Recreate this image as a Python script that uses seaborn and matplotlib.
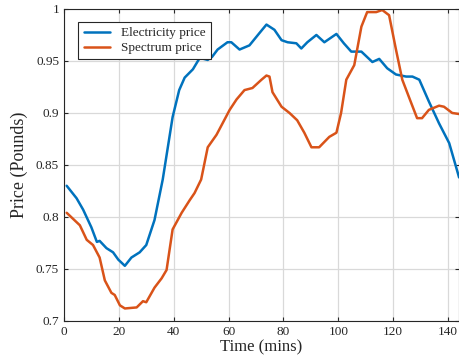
import numpy as np
import pandas as pd
import matplotlib
matplotlib.use("Agg")
import matplotlib.pyplot as plt
import seaborn as sns

# electricity price
elec_t = [1, 4.6, 7, 10, 12, 13, 15.5, 17.9, 19.8, 22.2, 24.6, 27.6, 30, 33, 36,
          39.6, 42, 44, 47, 49.5, 52.4, 54, 56, 59.6, 61, 64, 67.6, 71.3, 73.8,
          76.7, 79.3, 81.5, 84.7, 86.5, 88.7, 92, 94.9, 99.3, 102, 104.7, 108.4,
          112.4, 114.9, 117.8, 121, 124.7, 127, 129.5, 133, 136.7, 140.4, 144]
elec_p = [0.830, 0.818, 0.807, 0.790, 0.776, 0.777, 0.770, 0.766, 0.759, 0.753,
          0.761, 0.766, 0.773, 0.797, 0.836, 0.896, 0.922, 0.934, 0.942, 0.953,
          0.951, 0.954, 0.961, 0.968, 0.968, 0.961, 0.965, 0.977, 0.985, 0.980,
          0.970, 0.968, 0.967, 0.962, 0.968, 0.975, 0.968, 0.976, 0.967, 0.959,
          0.959, 0.949, 0.952, 0.943, 0.937, 0.935, 0.935, 0.932, 0.911, 0.890,
          0.871, 0.838]

# spectrum price
spec_t = [1, 5.8, 8.3, 10.6, 13, 14.9, 17.3, 18.5, 20.4, 22.2, 26.5, 28.8, 30,
          33, 35.6, 37.4, 39.6, 42.9, 45.8, 47.6, 50, 52.4, 55.6, 57.8, 60.4,
          62.9, 65.8, 68.7, 72, 73.8, 74.9, 76, 79.3, 82.2, 85, 87.6, 90.2, 93,
          96.7, 99.3, 101, 102.9, 105.8, 108.4, 110.5, 113.8, 116, 118.5, 121,
          123.3, 126.5, 128.7, 130.5, 133, 136.7, 138.5, 141.5, 144]
spec_p = [0.804, 0.792, 0.778, 0.773, 0.761, 0.739, 0.727, 0.725, 0.715, 0.712,
          0.713, 0.719, 0.718, 0.732, 0.741, 0.749, 0.788, 0.804, 0.816, 0.823,
          0.836, 0.867, 0.879, 0.890, 0.903, 0.913, 0.922, 0.924, 0.932, 0.936,
          0.935, 0.920, 0.906, 0.900, 0.893, 0.881, 0.867, 0.867, 0.877, 0.881,
          0.900, 0.932, 0.946, 0.983, 0.997, 0.997, 0.999, 0.994, 0.961, 0.932,
          0.910, 0.895, 0.895, 0.903, 0.907, 0.906, 0.900, 0.899]

sns.set_style("whitegrid")
plt.rcParams["font.family"] = ["Liberation Serif", "DejaVu Serif"]

fig = plt.figure(figsize=(4.6, 3.59), dpi=100)
ax = fig.add_axes([0.139, 0.106, 0.859, 0.869])

elec = pd.DataFrame({"t": elec_t, "p": elec_p})
spec = pd.DataFrame({"t": spec_t, "p": spec_p})
sns.lineplot(data=elec, x="t", y="p", ax=ax, color="#0072BD", lw=1.8,
             label="Electricity price")
sns.lineplot(data=spec, x="t", y="p", ax=ax, color="#D95319", lw=1.8,
             label="Spectrum price")

ax.set_xlim(0, 144)
ax.set_ylim(0.7, 1.0)
ax.set_xticks([0, 20, 40, 60, 80, 100, 120, 140])
ax.set_yticks([0.7, 0.75, 0.8, 0.85, 0.9, 0.95, 1.0])
ax.set_yticklabels(["0.7", "0.75", "0.8", "0.85", "0.9", "0.95", "1"])
ax.tick_params(labelsize=9.5, direction="in", length=3, color="#262626",
               top=True, right=True, bottom=True, left=True)
ax.grid(True, color="#d9d9d9", lw=0.9)
for s in ax.spines.values():
    s.set_color("#262626")
    s.set_linewidth(0.8)

ax.set_xlabel("Time (mins)", fontsize=12, labelpad=1)
ax.set_ylabel("Price (Pounds)", fontsize=13, labelpad=6)

leg = ax.legend(loc="upper left", bbox_to_anchor=(0.02, 0.98), fontsize=9.5,
                fancybox=False, edgecolor="#262626", framealpha=1,
                handlelength=2.0, borderpad=0.4, labelspacing=0.2)
leg.get_frame().set_linewidth(0.8)

fig.savefig("out.png", dpi=100)
